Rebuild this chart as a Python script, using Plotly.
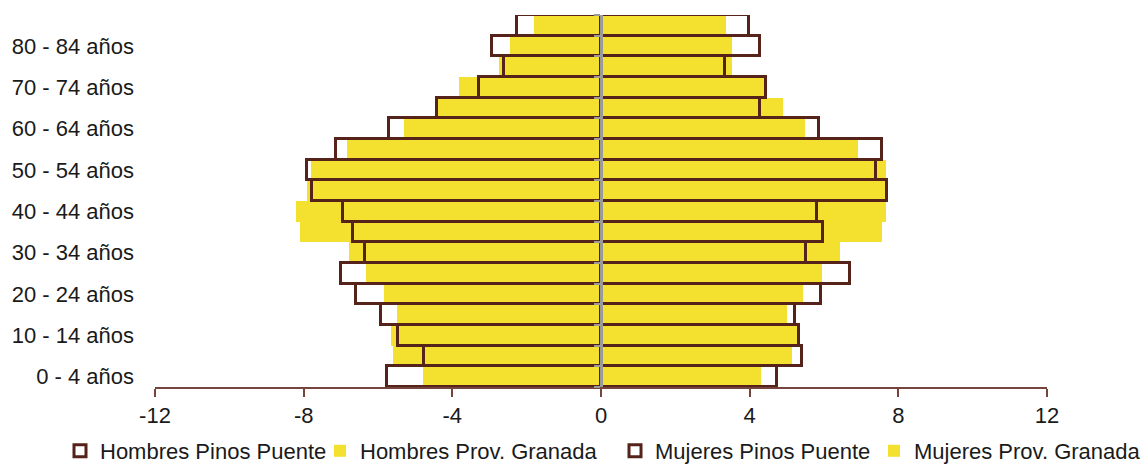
import plotly.graph_objects as go

# grupos de edad, de abajo (0-4) hacia arriba (85 y más)
edades = ["0 - 4 años", "5 - 9 años", "10 - 14 años", "15 - 19 años", "20 - 24 años",
          "25 - 29 años", "30 - 34 años", "35 - 39 años", "40 - 44 años", "45 - 49 años",
          "50 - 54 años", "55 - 59 años", "60 - 64 años", "65 - 69 años", "70 - 74 años",
          "75 - 79 años", "80 - 84 años", "85 y más años"]
etiquetas = edades[0:17:2]

# porcentajes (hombres en negativo)
hombres_pinos = [-5.75, -4.75, -5.47, -5.93, -6.59, -7.0, -6.36, -6.66, -6.94, -7.78,
                 -7.9, -7.12, -5.7, -4.4, -3.27, -2.62, -2.92, -2.27]
hombres_granada = [-4.78, -5.59, -5.66, -5.48, -5.84, -6.32, -6.78, -8.09, -8.21, -7.9,
                   -7.81, -6.84, -5.3, -4.4, -3.81, -2.74, -2.45, -1.8]
mujeres_pinos = [4.74, 5.4, 5.33, 5.23, 5.92, 6.7, 5.52, 5.98, 5.8, 7.7,
                 7.39, 7.57, 5.86, 4.27, 4.45, 3.33, 4.28, 3.98]
mujeres_granada = [4.3, 5.13, 5.26, 5.01, 5.43, 5.95, 6.43, 7.56, 7.67, 7.67,
                   7.67, 6.91, 5.49, 4.89, 4.39, 3.52, 3.52, 3.35]

ticks_x = [-12, -8, -4, 0, 4, 8, 12]
textos_x = ["-12", "-8", "-4", "0", "4", "8", "12"]

AMARILLO = "#F4E02E"
MARRON = "#55231A"
FUENTE = dict(family="Liberation Sans, Arial, sans-serif", size=22, color="#1a1a1a")

fig = go.Figure()

# barras amarillas (provincia) debajo
fig.add_trace(go.Bar(y=edades, x=hombres_granada, orientation="h", name="Hombres Prov. Granada",
                     marker=dict(color=AMARILLO, line=dict(width=0)), legend="legend2"))
fig.add_trace(go.Bar(y=edades, x=mujeres_granada, orientation="h", name="Mujeres Prov. Granada",
                     marker=dict(color=AMARILLO, line=dict(width=0)), legend="legend4"))

# contornos (Pinos Puente) encima, en el eje y2 que dibuja la línea central
fig.add_trace(go.Bar(y=edades, x=hombres_pinos, orientation="h", name="Hombres Pinos Puente",
                     marker=dict(color="rgba(255,255,255,0)", line=dict(color=MARRON, width=3)),
                     yaxis="y2", legend="legend"))
fig.add_trace(go.Bar(y=edades, x=mujeres_pinos, orientation="h", name="Mujeres Pinos Puente",
                     marker=dict(color="rgba(255,255,255,0)", line=dict(color=MARRON, width=3)),
                     yaxis="y2", legend="legend3"))


def leyenda(px):
    # una leyenda por serie, colocada en píxeles del contenedor
    return dict(orientation="h", xref="container", yref="container",
                x=px / 1140, xanchor="left", y=15 / 466, yanchor="middle",
                font=FUENTE, itemwidth=30, bgcolor="rgba(0,0,0,0)")


fig.update_layout(
    width=1140,
    height=466,
    barmode="overlay",
    bargap=0,
    plot_bgcolor="white",
    paper_bgcolor="white",
    font=FUENTE,
    margin=dict(l=155, r=93, t=15, b=79),
    xaxis=dict(
        range=[-12, 12],
        tickvals=ticks_x,
        ticktext=textos_x,
        showgrid=False,
        zeroline=False,
        showline=True,
        linecolor="#74443d",
        linewidth=2,
        ticks="outside",
        ticklen=8,
        tickwidth=1.5,
        tickcolor="#74443d",
        tickfont=FUENTE,
        automargin=False,
    ),
    yaxis=dict(
        type="category",
        categoryorder="array",
        categoryarray=edades,
        range=[-0.5, 17.5],
        tickvals=etiquetas,
        ticktext=etiquetas,
        ticks="",
        showline=False,
        showgrid=False,
        zeroline=False,
        ticklabelstandoff=20,
        tickfont=FUENTE,
        automargin=False,
    ),
    yaxis2=dict(
        type="category",
        categoryorder="array",
        categoryarray=edades,
        range=[-0.5, 17.5],
        overlaying="y",
        anchor="free",
        position=0.5,
        showticklabels=False,
        showline=True,
        linecolor="#9a9a9a",
        linewidth=3,
        ticks="outside",
        tickson="boundaries",
        tickmode="linear",
        dtick=1,
        ticklen=6,
        tickwidth=2,
        tickcolor="#9a9a9a",
        showgrid=False,
        zeroline=False,
        automargin=False,
    ),
    showlegend=True,
    legend=leyenda(60),
    legend2=leyenda(320),
    legend3=leyenda(615),
    legend4=leyenda(874),
)

# sin el margen por defecto del <body>, la figura ocupa toda la ventana
fig.write_html("out.html", config={"displayModeBar": False},
               post_script="document.body.style.margin = '0px';")
